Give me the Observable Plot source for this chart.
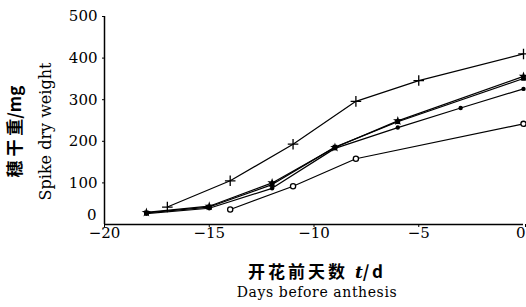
<!DOCTYPE html>
<html><head><meta charset="utf-8">
<script src="https://cdn.jsdelivr.net/npm/d3@7"></script>
<script src="https://cdn.jsdelivr.net/npm/@observablehq/plot@0.6"></script>
<style>
body{margin:0;background:#fff;}
#t{width:526px;font-family:"DejaVu Serif",serif;color:#000;}
.l1{margin-left:108px;text-align:center;font-family:"Noto Sans CJK SC",sans-serif;font-weight:bold;font-size:17px;line-height:20px;margin-top:16px;letter-spacing:3px;}
.l2{margin-left:108px;text-align:center;font-family:"DejaVu Serif",serif;font-size:14px;line-height:21px;letter-spacing:0.6px;}
</style></head><body>
<div id="chart"></div>
<div id="t"><div class="l1">开花前天数 <i style="font-family:'DejaVu Serif',serif;letter-spacing:0">t</i>/d</div><div class="l2">Days before anthesis</div></div>
<script>
const xTicks = [-20, -15, -10, -5];
const xEnd = [0];
const yTicks = [100, 200, 300, 400, 500];
const yZero = [0];
const daysA = [-17, -14, -11, -8, -5, 0];
const wtA = [42, 105, 193, 296, 346, 410];
const daysB = [-14, -11, -8, 0];
const wtB = [36, 92, 158, 242];
const daysC = [-18, -15, -12, -9, -6, 0];
const wtC = [29, 44, 100, 185, 249, 356];
const daysD = [-18, -15, -12, -9, -6, -3, 0];
const wtD = [26, 39, 87, 183, 233, 280, 326];
const daysE = [-18, -15, -12, -9, -6, 0];
const wtE = [28, 42, 96, 186, 247, 351];

const mk = (days, wt) => days.map((d, i) => ({day: d, wt: wt[i]}));
const A = mk(daysA, wtA), B = mk(daysB, wtB), C = mk(daysC, wtC), D = mk(daysD, wtD), E = mk(daysE, wtE);
const lineOpts = {x: "day", y: "wt", stroke: "#000", strokeWidth: 1.2};

const plot = Plot.plot({
  width: 526, height: 245,
  marginLeft: 104, marginRight: 3, marginTop: 16, marginBottom: 21,
  style: {fontFamily: "DejaVu Serif, serif", fontSize: "15px", color: "#000", background: "#fff"},
  x: {domain: [-20, 0], label: null},
  y: {domain: [0, 500], label: null},
  marks: [
    Plot.axisX({ticks: xTicks, tickSize: 3, tickPadding: 0, label: null, fontSize: 15}),
    Plot.axisX({ticks: xEnd, tickSize: 3, tickPadding: 0, label: null, fontSize: 15, textAnchor: "end", dx: 2}),
    Plot.axisY({ticks: yTicks, tickSize: 2, tickPadding: 5, label: null, fontSize: 15}),
    Plot.axisY({ticks: yZero, tickSize: 0, tickPadding: 8, dy: -9, label: null, fontSize: 15}),
    Plot.ruleX([-20], {stroke: "#000", strokeWidth: 1.5}),
    Plot.ruleY([0], {stroke: "#000", strokeWidth: 1.5}),
    Plot.line(A, lineOpts), Plot.line(B, lineOpts), Plot.line(C, lineOpts),
    Plot.line(D, lineOpts), Plot.line(E, lineOpts),
    Plot.dot(A, {x: "day", y: "wt", symbol: "plus", r: 3.5, stroke: "#000", strokeWidth: 1.3}),
    Plot.dot(B, {x: "day", y: "wt", symbol: "circle", r: 2.6, stroke: "#000", fill: "#fff", strokeWidth: 1.3}),
    Plot.dot(C, {x: "day", y: "wt", symbol: "star", r: 3, fill: "#000", stroke: "none"}),
    Plot.dot(D, {x: "day", y: "wt", symbol: "circle", r: 2.2, fill: "#000", stroke: "none"}),
    Plot.dot(E, {x: "day", y: "wt", symbol: "square", r: 2.6, fill: "#000", stroke: "none"}),
    Plot.text(["穗 干 重/mg"], {frameAnchor: "left", textAnchor: "middle", text: d => d, rotate: -90, dx: -89, dy: 11,
      fontFamily: "Noto Sans CJK SC", fontWeight: "bold", fontSize: 17}),
    Plot.text(["Spike dry weight"], {frameAnchor: "left", textAnchor: "middle", text: d => d, rotate: -90, dx: -59, dy: 11,
      fontFamily: "DejaVu Serif", fontSize: 16})
  ]
});
document.getElementById("chart").appendChild(plot);
</script>
</body></html>
